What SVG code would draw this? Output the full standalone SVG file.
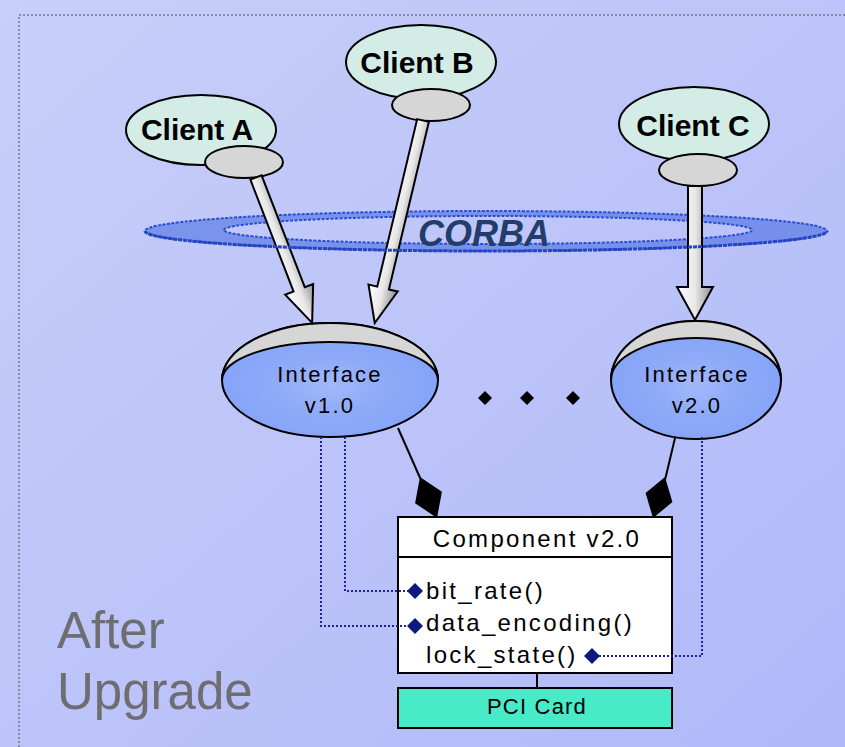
<svg xmlns="http://www.w3.org/2000/svg" width="845" height="747" viewBox="0 0 845 747">
<style>
.client{fill:#d4ece6;stroke:#000;stroke-width:2}
.port{fill:#d6d6d6;stroke:#000;stroke-width:2}
.ctext{font-family:"Liberation Sans",Arial,sans-serif;font-weight:bold;font-size:30px;fill:#000;text-anchor:middle}
.itext{font-family:"Liberation Sans",Arial,sans-serif;font-size:22px;letter-spacing:2.2px;fill:#000;text-anchor:middle}
.mtext{font-family:"Liberation Sans",Arial,sans-serif;font-size:24px;letter-spacing:2.3px;fill:#000}
.iface{stroke:#000;stroke-width:2;fill:url(#ifGrad)}
.cres{fill:#d6d6d6;stroke:#000;stroke-width:2}
.fat{fill:url(#arrowGrad);stroke:#000;stroke-width:2;stroke-linejoin:miter}
.dot{fill:none;stroke:#1a22a8;stroke-width:2;stroke-dasharray:2 2}
.ndiam{fill:#0c1a80}
</style>
<defs>
<linearGradient id="bgGrad" x1="0" y1="0" x2="1" y2="1">
<stop offset="0" stop-color="#c8cff9"/>
<stop offset="1" stop-color="#b0b9f9"/>
</linearGradient>
<linearGradient id="arrowGrad" x1="0" y1="0" x2="1" y2="0">
<stop offset="0" stop-color="#ffffff"/>
<stop offset="0.5" stop-color="#e8e8e8"/>
<stop offset="1" stop-color="#8e8e8e"/>
</linearGradient>
<radialGradient id="ifGrad" cx="0.5" cy="0.55" r="0.5">
<stop offset="0" stop-color="#a2b8fa"/>
<stop offset="0.5" stop-color="#8eaaf8"/>
<stop offset="1" stop-color="#86a4f8"/>
</radialGradient>
</defs>

<rect id="background" x="0" y="0" width="845" height="747" fill="url(#bgGrad)"/>
<path id="border" d="M19,747 V15 H845" fill="none" stroke="#7a7a8a" stroke-width="1.5" stroke-dasharray="2 2"/>

<g id="corba-ring">
<path d="M145,231 A341,20 0 1 0 827,231 A341,20 0 1 0 145,231 Z M224,230 A264,14 0 1 1 752,230 A264,14 0 1 1 224,230 Z" fill="#3f66e0" fill-opacity="0.55" fill-rule="evenodd" stroke="#2a4ed2" stroke-width="2" stroke-dasharray="3 1.5"/>
</g>

<g id="clientA">
<ellipse class="client" cx="201" cy="130" rx="75" ry="35"/>
<text class="ctext" x="197" y="140">Client A</text>
<ellipse class="port" cx="244" cy="162" rx="39" ry="16"/>
</g>
<g id="clientB">
<ellipse class="client" cx="421" cy="62" rx="75" ry="37"/>
<text class="ctext" x="417" y="73">Client B</text>
<ellipse class="port" cx="431" cy="105" rx="39" ry="16"/>
</g>
<g id="clientC">
<ellipse class="client" cx="694" cy="124" rx="75" ry="37"/>
<text class="ctext" x="693" y="136">Client C</text>
<ellipse class="port" cx="698" cy="170" rx="39" ry="16"/>
</g>

<g id="interface-v1">
<ellipse class="iface" cx="330" cy="380" rx="108" ry="57"/>
<path class="cres" d="M222,380 A108,57 0 0 1 438,380 A108,38 0 0 0 222,380 Z"/>
<text class="itext" x="330" y="382">Interface</text>
<text class="itext" x="330" y="413">v1.0</text>
</g>
<g id="interface-v2">
<ellipse class="iface" cx="696" cy="380" rx="85" ry="59"/>
<path class="cres" d="M611,380 A85,59 0 0 1 781,380 A85,42 0 0 0 611,380 Z"/>
<text class="itext" x="697" y="382">Interface</text>
<text class="itext" x="697" y="413">v2.0</text>
</g>

<g id="ellipsis-dots" fill="#000">
<polygon points="485,391 492,398 485,405 478,398"/>
<polygon points="527,391 534,398 527,405 520,398"/>
<polygon points="573,391 580,398 573,405 566,398"/>
</g>

<g id="component">
<rect x="398" y="517" width="274" height="156" fill="#fff" stroke="#000" stroke-width="2"/>
<line x1="398" y1="557" x2="672" y2="557" stroke="#000" stroke-width="2"/>
<text class="mtext" x="537" y="547" text-anchor="middle">Component v2.0</text>
<text class="mtext" x="426" y="599">bit_rate()</text>
<text class="mtext" x="426" y="631">data_encoding()</text>
<text class="mtext" x="426" y="663">lock_state()</text>
</g>
<g id="pci-card">
<rect x="398" y="688" width="274" height="40" fill="#48ebc8" stroke="#000" stroke-width="2"/>
<text x="537" y="714" font-family="Liberation Sans,Arial,sans-serif" font-size="22" letter-spacing="1.2" fill="#000" text-anchor="middle">PCI Card</text>
</g>

<g id="label" font-family="Liberation Sans,Arial,sans-serif" font-size="51" fill="#6e6e72">
<text x="57" y="648">After</text>
<text x="57" y="709">Upgrade</text>
</g>

<g id="connectors">
<g transform="translate(256,177.5) rotate(-21.1)"><polygon class="fat" points="-6,0 6,0 6,119.9 15,119.9 0,155.9 -15,119.9 -6,119.9"/></g>
<g transform="translate(423,120.5) rotate(13.4)"><polygon class="fat" points="-6,0 6,0 6,172.2 15,172.2 0,208.2 -15,172.2 -6,172.2"/></g>
<g transform="translate(695,186)"><polygon class="fat" points="-7,0 7,0 7,101 18,101 0,134 -18,101 -7,101"/></g>
<line x1="398" y1="428" x2="421" y2="480" stroke="#000" stroke-width="2"/>
<polygon points="420,477 441.9,491.8 437,518 415.1,503.2" fill="#000"/>
<line x1="675" y1="438" x2="665" y2="480" stroke="#000" stroke-width="2"/>
<polygon points="665,477 672.4,502.1 653,518 645.6,492.9" fill="#000"/>
<polyline class="dot" points="345,437 345,591 409,591"/>
<polyline class="dot" points="321,437 321,626 409,626"/>
<polyline class="dot" points="702,437 702,656 598,656"/>
<polygon class="ndiam" points="415,583 423,591 415,599 407,591"/>
<polygon class="ndiam" points="415,618 423,626 415,634 407,626"/>
<polygon class="ndiam" points="592,648 600,656 592,664 584,656"/>
<line x1="537" y1="673" x2="537" y2="688" stroke="#000" stroke-width="2"/>
</g>

<g id="corba-front">
<path d="M145,231 A341,20 0 0 0 827,231" fill="none" stroke="#2446c4" stroke-width="3" stroke-dasharray="4 1"/>
<text x="484" y="246" font-family="Liberation Sans,Arial,sans-serif" font-weight="bold" font-style="italic" font-size="36" fill="#223d6a" text-anchor="middle">CORBA</text>
</g>
</svg>
